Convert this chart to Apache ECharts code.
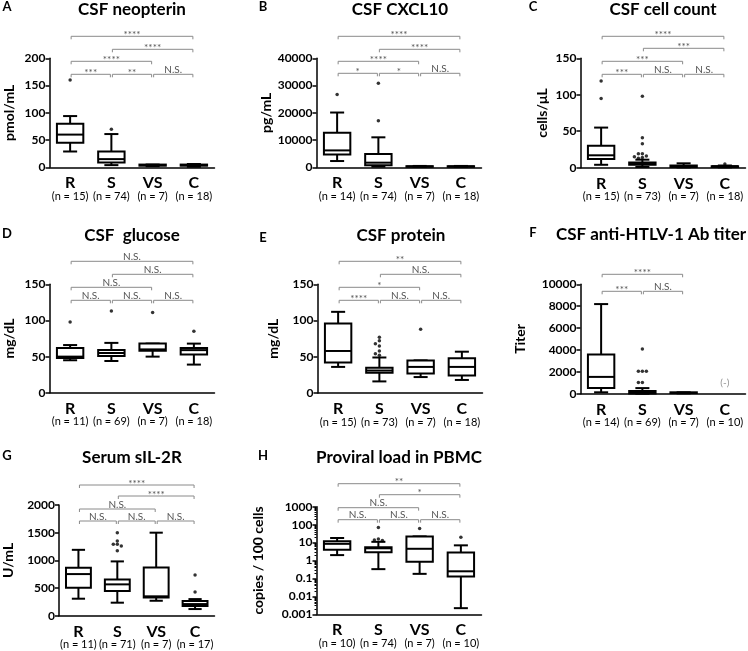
<!DOCTYPE html>
<html>
<head>
<meta charset="utf-8">
<script src="https://cdn.jsdelivr.net/npm/echarts@6/dist/echarts.min.js"></script>
<style>
  html, body { margin: 0; padding: 0; background: #fff; }
  #main { width: 748px; height: 651px; }
</style>
</head>
<body>
<div id="main"></div>
<script>
const groups = ['R', 'S', 'VS', 'C'];

// box data per group: [min, Q1, median, Q3, max]
// A: CSF neopterin
const nA = [15, 74, 7, 18];
const boxA = [[29, 45, 60, 80, 94], [4, 9, 15, 29, 61], [2, 3, 4, 5, 5], [1, 3, 4, 5, 6]];
const outA = [[0, 160], [1, 70]];
const sigA = [[0, 1, 0, '***'], [1, 2, 0, '**'], [2, 3, 0, 'N.S.'], [0, 2, 1, '****'], [1, 3, 2, '****'], [0, 3, 3, '****']];

// B: CSF CXCL10
const nB = [14, 74, 7, 18];
const boxB = [[2300, 4700, 6200, 12700, 20100], [250, 750, 1700, 4850, 11000], [100, 200, 300, 400, 500], [100, 200, 300, 400, 500]];
const outB = [[0, 26700], [1, 30800], [1, 17100]];
const sigB = [[0, 1, 0, '*'], [1, 2, 0, '*'], [2, 3, 0, 'N.S.'], [0, 2, 1, '****'], [1, 3, 2, '****'], [0, 3, 3, '****']];

// C: CSF cell count
const nC = [15, 73, 7, 18];
const boxC = [[4, 12, 17, 30, 55], [1, 4, 5, 7, 11], [0.5, 1, 2, 3, 6], [0.5, 1, 2, 2, 3]];
const outC = [[0, 119], [0, 95], [1, 98], [1, 41], [1, 33], [1, 19], [1, 19], [1, 16], [1, 15], [1, 14], [1, 13], [3, 5]];
const sigC = [[0, 1, 0, '***'], [1, 2, 0, 'N.S.'], [2, 3, 0, 'N.S.'], [0, 2, 1, '***'], [1, 3, 2, '***'], [0, 3, 3, '****']];

// D: CSF glucose
const nD = [11, 69, 7, 18];
const boxD = [[45, 48, 50, 62, 66], [44, 51, 55, 59, 69], [50, 58, 60, 68, 68], [39, 53, 59, 62, 68]];
const outD = [[0, 98], [1, 113], [2, 111], [3, 85]];
const sigD = [[0, 1, 0, 'N.S.'], [1, 2, 0, 'N.S.'], [2, 3, 0, 'N.S.'], [0, 2, 1, 'N.S.'], [1, 3, 2, 'N.S.'], [0, 3, 3, 'N.S.']];

// E: CSF protein
const nE = [15, 73, 7, 18];
const boxE = [[36, 42, 58, 96, 112], [16, 28, 31, 35, 49], [22, 27, 36, 45, 45], [18, 24, 36, 48, 57]];
const outE = [[1, 77], [1, 72], [1, 68], [1, 65], [1, 58], [1, 54], [1, 52], [2, 88]];
const sigE = [[0, 1, 0, '****'], [1, 2, 0, 'N.S.'], [2, 3, 0, 'N.S.'], [0, 2, 1, '*'], [1, 3, 2, 'N.S.'], [0, 3, 3, '**']];

// F: CSF anti-HTLV-1 Ab titer (C group negative)
const nF = [14, 69, 7, 10];
const boxF = [[128, 512, 1536, 3584, 8192], [0, 16, 64, 256, 512], [32, 64, 64, 128, 128], null];
const outF = [[1, 4096], [1, 2048], [1, 2048], [1, 2048], [1, 1024], [1, 1024]];
const sigF = [[0, 1, 0, '***'], [1, 2, 0, 'N.S.'], [0, 2, 1, '****']];
const negF = [[3, 0]];

// G: Serum sIL-2R
const nG = [11, 71, 7, 17];
const boxG = [[307, 506, 752, 867, 1190], [235, 445, 566, 656, 981], [270, 330, 350, 870, 1500], [120, 175, 210, 265, 300]];
const outG = [[1, 1500], [1, 1350], [1, 1290], [1, 1290], [1, 1260], [1, 1175], [3, 735], [3, 430]];
const sigG = [[0, 1, 0, 'N.S.'], [1, 2, 0, 'N.S.'], [2, 3, 0, 'N.S.'], [0, 2, 1, 'N.S.'], [1, 3, 2, '****'], [0, 3, 3, '****']];

// H: Proviral load in PBMC (log axis)
const nH = [10, 74, 7, 10];
const boxH = [[2, 4, 8.5, 12, 18], [0.33, 2.9, 4.8, 5.5, 11], [0.18, 0.85, 4.5, 22, 22], [0.0022, 0.13, 0.25, 2.8, 7]];
const outH = [[1, 70], [1, 16], [1, 14], [1, 13], [2, 60], [3, 20]];
const sigH = [[0, 1, 0, 'N.S.'], [1, 2, 0, 'N.S.'], [2, 3, 0, 'N.S.'], [0, 2, 1, 'N.S.'], [1, 3, 2, '*'], [0, 3, 3, '**']];

const letters = ['A', 'B', 'C', 'D', 'E', 'F', 'G', 'H'];
const titles = ['CSF neopterin', 'CSF CXCL10', 'CSF cell count', 'CSF  glucose', 'CSF protein', 'CSF anti-HTLV-1 Ab titer', 'Serum sIL-2R', 'Proviral load in PBMC'];
const yNames = ['pmol/mL', 'pg/mL', 'cells/\u03bcL', 'mg/dL', 'mg/dL', 'Titer', 'U/mL', 'copies / 100 cells'];
const yMax = [200, 40000, 150, 150, 150, 10000, 2000, 1000];
const yStep = [50, 10000, 50, 50, 50, 2000, 500, null];

const nAll = [nA, nB, nC, nD, nE, nF, nG, nH];
const boxAll = [boxA, boxB, boxC, boxD, boxE, boxF, boxG, boxH];
const outAll = [outA, outB, outC, outD, outE, outF, outG, outH];
const sigAll = [sigA, sigB, sigC, sigD, sigE, sigF, sigG, sigH];

// layout (pixels): grid left, top, height
const gridPos = [[49.5, 58.3, 109], [316.5, 58.3, 109], [580.5, 58.3, 109.4],
                 [49.5, 284.3, 108.5], [317.5, 284.3, 108.7], [580.5, 284.3, 109.4],
                 [49.5, 505, 110.7], [316.5, 506.7, 107.6]];
const nameGaps = [33, 43, 31, 33, 37, 53, 44, 51];
const levelOffsets = [[16, 3, -9, -22], [15, 3, -9, -22], [16, 3, -10, -22],
                      [16, 3, -10, -23], [16, 3, -10, -23], [7, -10],
                      [16, 4, -9, -20], [13, 1, -12, -23]];
const titlePos = [[132, 10], [400, 10], [663, 10], [132, 236], [401, 236], [651, 235], [132, 458], [399, 458]];
const letterPos = [[7, 7], [263, 7], [533, 7], [7, 234], [263, 238], [533, 233], [7, 456], [263, 456]];

const FONT = 'Lato';

function renderBox(params, api) {
  const cat = api.value(0);
  const lo = api.value(1), q1 = api.value(2), med = api.value(3), q3 = api.value(4), hi = api.value(5);
  const x = api.coord([cat, med])[0];
  const band = params.coordSys.width / groups.length;
  const hw = band * 0.32, cw = band * 0.17;
  const y = v => api.coord([cat, v])[1];
  const s = { stroke: '#000', lineWidth: 2, fill: null };
  return {
    type: 'group',
    children: [
      { type: 'line', shape: { x1: x, y1: y(hi), x2: x, y2: y(q3) }, style: s },
      { type: 'line', shape: { x1: x, y1: y(q1), x2: x, y2: y(lo) }, style: s },
      { type: 'line', shape: { x1: x - cw, y1: y(hi), x2: x + cw, y2: y(hi) }, style: s },
      { type: 'line', shape: { x1: x - cw, y1: y(lo), x2: x + cw, y2: y(lo) }, style: s },
      { type: 'rect', shape: { x: x - hw, y: y(q3), width: 2 * hw, height: y(q1) - y(q3) },
        style: { stroke: '#000', lineWidth: 2, fill: '#fff' } },
      { type: 'line', shape: { x1: x - hw, y1: y(med), x2: x + hw, y2: y(med) }, style: s }
    ]
  };
}

function bracketRenderer(sig, offsets) {
  return function (params, api) {
    const b = sig[params.dataIndex];
    const yl = params.coordSys.y + offsets[b[2]];
    const x1 = api.coord([b[0], 1])[0] + 1;
    const x2 = api.coord([b[1], 1])[0] - 1;
    const star = b[3].indexOf('*') >= 0;
    return {
      type: 'group',
      children: [
        { type: 'polyline', shape: { points: [[x1, yl + 3], [x1, yl], [x2, yl], [x2, yl + 3]] },
          style: { stroke: '#8a8a8a', lineWidth: 1, fill: null } },
        { type: 'text', x: (x1 + x2) / 2, y: star ? yl + 3.5 : yl + 0.5,
          style: { text: b[3], fill: '#555', font: '10px ' + FONT, align: 'center', verticalAlign: 'bottom' } }
      ]
    };
  };
}

// spread outliers with (nearly) equal values sideways, like the original plot
function spreadPoints(points, isLog, range) {
  const placed = [];
  return points.map(([c, v]) => {
    const t = isLog ? Math.log10(v) : v;
    const used = placed.filter(p => p.c === c && Math.abs(p.t - t) < range * 0.03).map(p => p.dx);
    const dx = [0, -4, 4, -8, 8].find(d => used.indexOf(d) < 0);
    placed.push({ c, t, dx: dx === undefined ? 0 : dx });
    return { value: [c, v], symbolOffset: [dx || 0, 0] };
  });
}

const grid = [], xAxis = [], yAxis = [], series = [], graphic = [];

for (let i = 0; i < 8; i++) {
  const [gl, gt, gh] = gridPos[i];
  const isLog = i === 7;
  const n = nAll[i];
  grid.push({ left: gl, top: gt, width: 165, height: gh });
  xAxis.push({
    type: 'category', gridIndex: i, data: groups,
    axisLine: { lineStyle: { color: '#000', width: 1.5 } },
    axisTick: { alignWithLabel: true, length: 4, lineStyle: { color: '#000', width: 1.5 } },
    axisLabel: {
      interval: 0, margin: 8.5,
      formatter: (v, idx) => '{a|' + v + '}\n{b|(n = ' + n[idx] + ')}',
      rich: {
        a: { fontFamily: FONT, fontWeight: 'bold', fontSize: 16, lineHeight: 15, color: '#000' },
        b: { fontFamily: FONT, fontSize: 11, lineHeight: 11, color: '#000' }
      }
    }
  });
  const y = {
    gridIndex: i,
    axisLine: { show: true, lineStyle: { color: '#000', width: 1.5 } },
    axisTick: { show: true, length: 4, lineStyle: { color: '#000', width: 1.5 } },
    splitLine: { show: false },
    axisLabel: { color: '#000', fontFamily: FONT, fontWeight: 'bold', fontSize: 12, margin: 4 },
    name: yNames[i], nameLocation: 'middle', nameGap: nameGaps[i],
    nameTextStyle: { fontFamily: FONT, fontWeight: 'bold', fontSize: 14, color: '#000' }
  };
  if (isLog) {
    Object.assign(y, {
      type: 'log', logBase: 10, min: 0.001, max: yMax[i],
      minorTick: { show: true, splitNumber: 9, length: 2, lineStyle: { color: '#000', width: 1 } }
    });
    y.axisLabel.formatter = v => String(+(+v).toPrecision(3));
  } else {
    Object.assign(y, { type: 'value', min: 0, max: yMax[i], interval: yStep[i] });
    y.axisLabel.formatter = v => String(v);
  }
  yAxis.push(y);

  series.push({
    type: 'custom', xAxisIndex: i, yAxisIndex: i, silent: true, z: 3,
    renderItem: renderBox,
    encode: { x: 0, y: [1, 2, 3, 4, 5] },
    data: boxAll[i].map((b, k) => b ? [k].concat(b) : null).filter(Boolean)
  });
  series.push({
    type: 'scatter', xAxisIndex: i, yAxisIndex: i, silent: true, z: 4,
    symbolSize: 3.5, itemStyle: { color: '#000' },
    data: spreadPoints(outAll[i], isLog, isLog ? 6 : yMax[i])
  });
  series.push({
    type: 'custom', xAxisIndex: i, yAxisIndex: i, silent: true, clip: false, z: 5,
    renderItem: bracketRenderer(sigAll[i], levelOffsets[i]),
    encode: { x: [0, 1], y: 2 },
    data: sigAll[i].map(b => [b[0], b[1], 1])
  });

  graphic.push({ type: 'text', x: titlePos[i][0], y: titlePos[i][1],
    style: { text: titles[i], font: 'bold 17px ' + FONT, fill: '#000', align: 'center', verticalAlign: 'middle' } });
  graphic.push({ type: 'text', x: letterPos[i][0], y: letterPos[i][1],
    style: { text: letters[i], font: 'bold 13px ' + FONT, fill: '#000', align: 'center', verticalAlign: 'middle' } });
}

// "(-)" marker for the negative control group in panel F
series.push({
  type: 'scatter', xAxisIndex: 5, yAxisIndex: 5, silent: true, symbolSize: 0,
  data: negF,
  label: { show: true, position: 'top', distance: 6, formatter: '(-)', color: '#777', fontFamily: FONT, fontSize: 10 }
});

const chart = echarts.init(document.getElementById('main'));
chart.setOption({
  animation: false,
  backgroundColor: '#fff',
  grid, xAxis, yAxis, series, graphic
});
</script>
</body>
</html>
